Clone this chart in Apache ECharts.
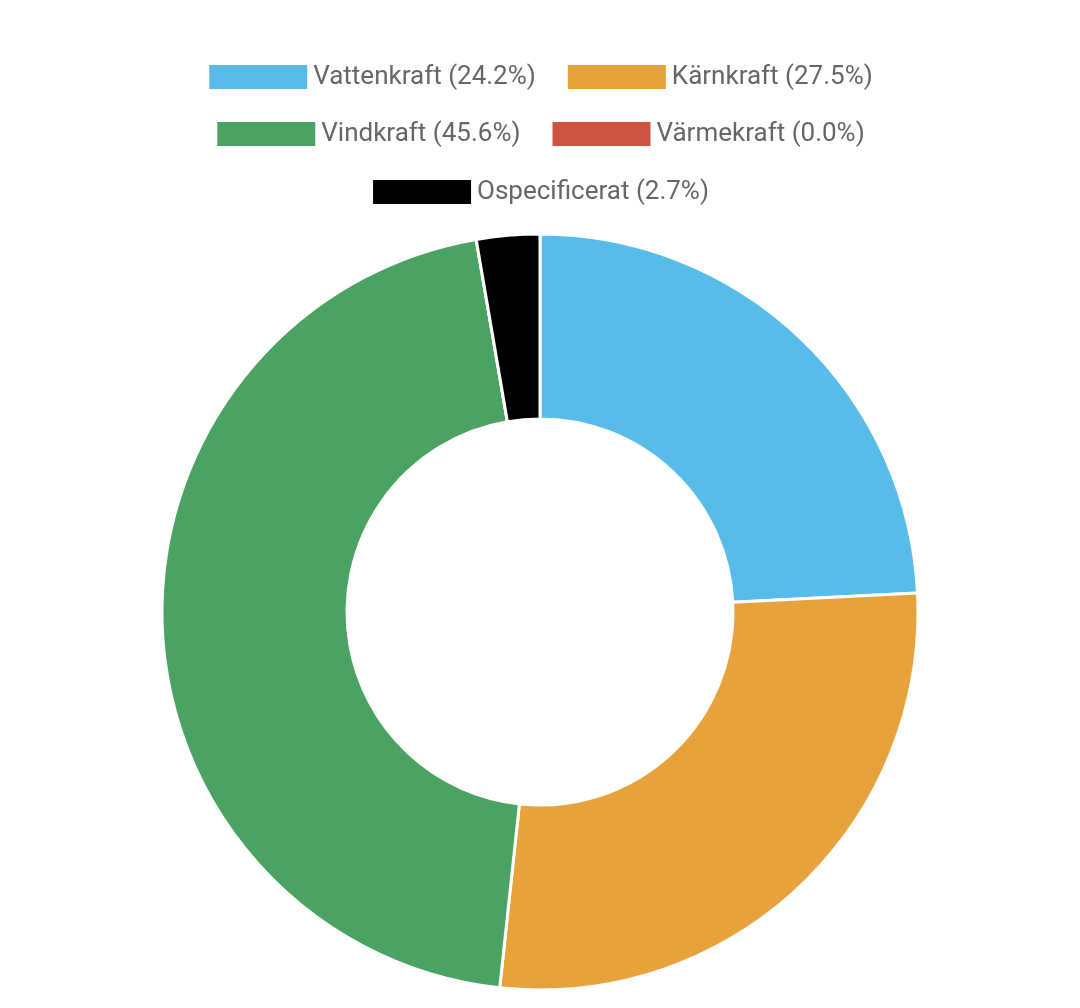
<!DOCTYPE html>
<html>
<head>
<meta charset="utf-8">
<script src="https://cdn.jsdelivr.net/npm/echarts@6/dist/echarts.min.js"></script>
<style>html,body{margin:0;padding:0;background:#fff}#container{width:1080px;height:1008px}</style>
</head>
<body>
<div id="container"></div>
<script>
var names = ['Vattenkraft', 'Kärnkraft', 'Vindkraft', 'Värmekraft', 'Ospecificerat'];
var values = [24.2, 27.5, 45.6, 0.0, 2.7];
var colors = ['#57bce9', '#e8a23c', '#4ba363', '#cc5542', '#000000'];

var myChart = echarts.init(document.getElementById('container'));

function legendRow(items, top) {
    return {
        data: items,
        top: top,
        left: 'center',
        itemWidth: 100,
        itemHeight: 26,
        itemGap: 30,
        icon: 'rect',
        textStyle: {fontSize: 26, color: '#666', fontFamily: 'Roboto'},
        formatter: function (n) {
            return n + ' (' + values[names.indexOf(n)].toFixed(1) + '%)';
        }
    };
}

var data = [];
for (var i = 0; i < names.length; i++) {
    data.push({name: names[i], value: values[i], itemStyle: {color: colors[i]}});
}

var option = {
    animation: false,
    legend: [
        legendRow(names.slice(0, 2), 58),
        legendRow(names.slice(2, 4), 115),
        legendRow(names.slice(4), 173)
    ],
    series: [{
        type: 'pie',
        center: [540, 612],
        radius: [193, 378],
        startAngle: 90,
        label: {show: false},
        labelLine: {show: false},
        itemStyle: {borderColor: '#fff', borderWidth: 3},
        data: data
    }]
};
myChart.setOption(option);
</script>
</body>
</html>
